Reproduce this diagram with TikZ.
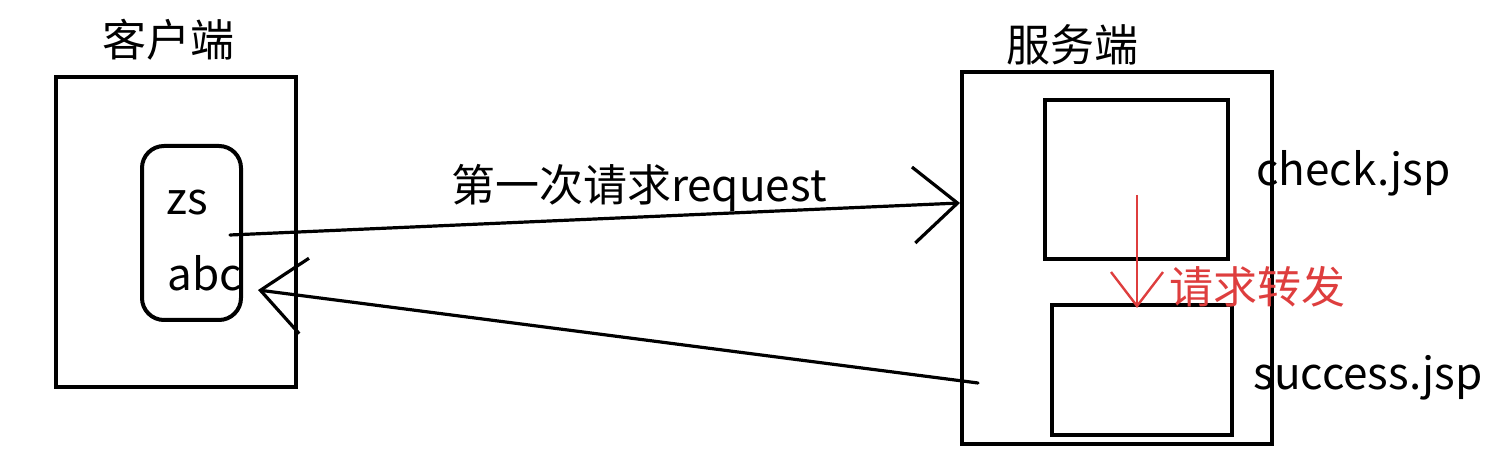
\documentclass[tikz,border=0pt]{standalone}
\usepackage{fontspec}
\setmainfont{Noto Sans CJK SC}
\usetikzlibrary{arrows.meta}
\definecolor{fwdred}{RGB}{222,62,62}
\tikzset{
  box/.style={draw, line width=2pt, inner sep=0pt},
  lbl/.style={font=\fontsize{22}{22}\selectfont, inner sep=0pt},
  barb/.style={line width=1.6pt, line cap=round,
    -{Straight Barb[length=22pt,width=38pt,line width=1.6pt]}}
}

\begin{document}
\begin{tikzpicture}[x=0.5pt,y=-0.5pt]
   \useasboundingbox (0,0) rectangle (1488,474);
   % client side
   \node [box, minimum width=120pt, minimum height=155pt] (client) at (176,232) {};
   \node [lbl, anchor=west] (zs) at (166,203) {zs};
   \node [lbl, anchor=west] (abc) at (167,273) {abc};
   \node [box, fill=white, fill opacity=0, rounded corners=11pt, minimum width=49.5pt, minimum height=87pt] (data) at (191.5,233) {};
   \node [lbl] (clienttitle) at (168,40) {客户端};
   % server side
   \node [box, minimum width=155pt, minimum height=186pt] (server) at (1117,258) {};
   \node [box, minimum width=91.5pt, minimum height=79.5pt] (check) at (1136.5,179.5) {};
   \node [box, minimum width=90pt, minimum height=65pt] (success) at (1142,370) {};
   \node [lbl] (servertitle) at (1072,45) {服务端};
   \node [lbl, anchor=west] (checkname) at (1256,173) {check.jsp};
   \node [lbl, anchor=west] (successname) at (1253,378) {success.jsp};
   % connectors
   \coordinate (reqstart) at (230,235);
   \coordinate (reqend) at (960,203);
   \coordinate (respstart) at (978,383);
   \coordinate (respend) at (258,290);
   \coordinate (fwdstart) at (1137,195);
   \coordinate (fwdend) at (1137,308);
   \draw [barb] (reqstart) -- node [lbl, pos=0.56, above=2pt] {第一次请求request} (reqend);
   \draw [barb] (respstart) -- (respend);
   \draw [fwdred, line width=1.2pt, -{Straight Barb[length=17pt,width=26pt,line width=1.2pt]}]
     (fwdstart) -- (fwdend);
   \node [lbl, text=fwdred, anchor=west] (fwdname) at (1169,287) {请求转发};
\end{tikzpicture}
\end{document}
